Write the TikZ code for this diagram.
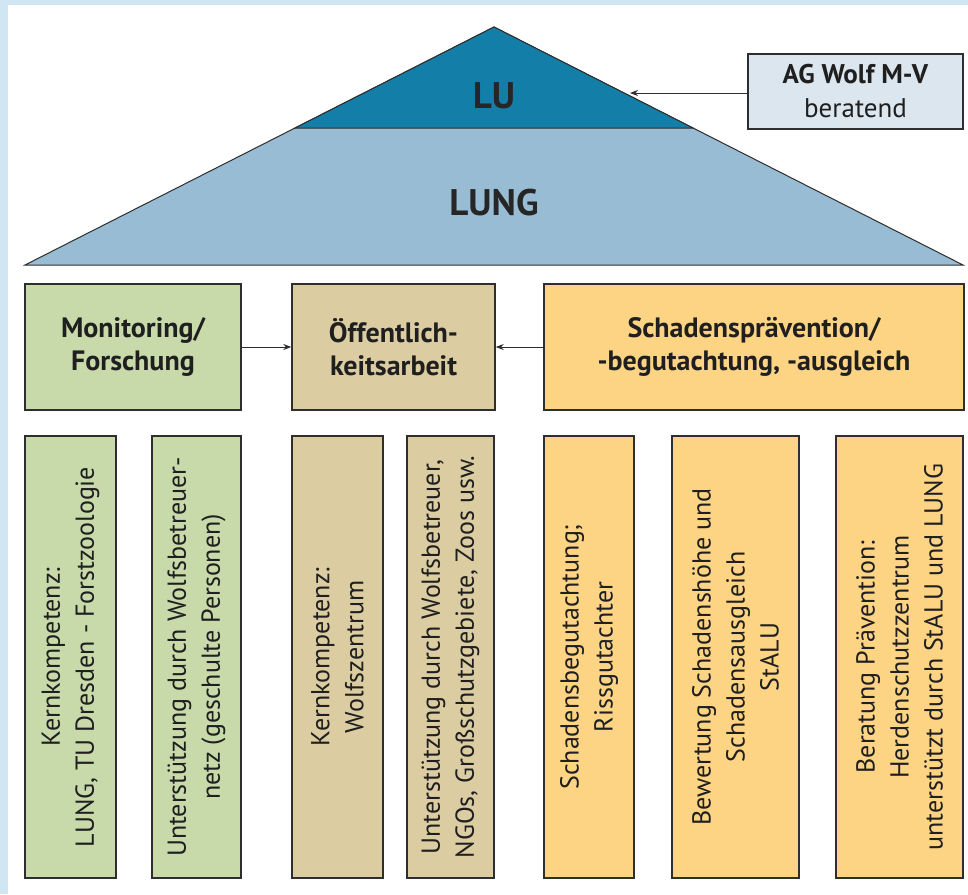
\documentclass[tikz,border=0pt]{standalone}
\usepackage{fontspec}
\setmainfont{PT Sans}
\usetikzlibrary{arrows.meta}
\definecolor{framec}{HTML}{D0E6F2}
\definecolor{lucol}{HTML}{137FA9}
\definecolor{lungcol}{HTML}{98BCD4}
\definecolor{agcol}{HTML}{DCE6EE}
\definecolor{greenc}{HTML}{C8D9AA}
\definecolor{tanc}{HTML}{DBCDA1}
\definecolor{orangec}{HTML}{FDD384}
\definecolor{linec}{HTML}{2E2E2E}
\tikzset{
  boxx/.style={draw=linec, line width=1.4pt, inner sep=0pt, align=center, text=black!88},
  topbox/.style={boxx, minimum height=126pt, font=\bfseries\fontsize{28}{33}\selectfont},
  vbox/.style={boxx, rotate=90, minimum width=442pt, font=\fontsize{26}{34}\selectfont},
  arr/.style={draw=linec, line width=1pt, -{Stealth[length=8pt,width=6pt]}},
}
\begin{document}
\begin{tikzpicture}[x=1pt,y=-1pt]
\useasboundingbox (0,0) rectangle (968,894);
\fill[framec] (0,0) rectangle (968,894);
\fill[white] (8,5) rectangle (968,894);
% triangle
\coordinate (apex) at (494,27);
\coordinate (bl) at (25,265);
\coordinate (br) at (963,265);
\coordinate (lul) at (295,128);
\coordinate (lur) at (693,128);
\filldraw[fill=lungcol, draw=linec, line width=1pt, line join=miter] (bl) -- (apex) -- (br) -- cycle;
\filldraw[fill=lucol, draw=linec, line width=1pt] (lul) -- (apex) -- (lur) -- cycle;
\node[font=\bfseries\fontsize{37}{42}\selectfont, text=black!85] (lu) at (494,96) {LU};
\node[font=\bfseries\fontsize{37}{42}\selectfont, text=black!85] (lung) at (494,203) {LUNG};
% AG box
\node[boxx, fill=agcol, minimum width=215pt, minimum height=75pt, font=\fontsize{27}{34}\selectfont] (ag) at (855.5,91.5) {\textbf{AG Wolf M-V}\\beratend};
\coordinate (agtip) at (630,93);
\draw[arr] (ag.west |- agtip) -- (agtip);
% top boxes
\node[topbox, fill=greenc, minimum width=216pt] (mon) at (133,347) {Monitoring/\\Forschung};
\node[topbox, fill=tanc, minimum width=203pt] (oef) at (393.5,347) {Öffentlich-\\keitsarbeit};
\node[topbox, fill=orangec, minimum width=420pt] (sch) at (754,347) {Schadensprävention/\\-begutachtung, -ausgleich};
\draw[arr] (mon.east) -- (oef.west);
\draw[arr] (sch.west) -- (oef.east);
% vertical boxes
\node[vbox, fill=greenc, minimum height=91pt] (k1) at (70.5,657) {Kernkompetenz:\\LUNG, TU Dresden - Forstzoologie};
\node[vbox, fill=greenc, minimum height=89pt] (k2) at (196.5,657) {Unterstützung durch Wolfsbetreuer-\\netz (geschulte Personen)};
\node[vbox, fill=tanc, minimum height=91pt] (k3) at (337.5,657) {Kernkompetenz:\\Wolfszentrum};
\node[vbox, fill=tanc, minimum height=87pt] (k4) at (450.5,657) {Unterstützung durch Wolfsbetreuer,\\NGOs, Großschutzgebiete, Zoos usw.};
\node[vbox, fill=orangec, minimum height=90pt] (k5) at (589,657) {Schadensbegutachtung;\\Rissgutachter};
\node[vbox, fill=orangec, minimum height=127pt] (k6) at (735.5,657) {Bewertung Schadenshöhe und\\Schadensausgleich\\StALU};
\node[vbox, fill=orangec, minimum height=127pt] (k7) at (899.5,657) {Beratung Prävention:\\Herdenschutzzentrum\\unterstützt durch StALU und LUNG};
\end{tikzpicture}
\end{document}
